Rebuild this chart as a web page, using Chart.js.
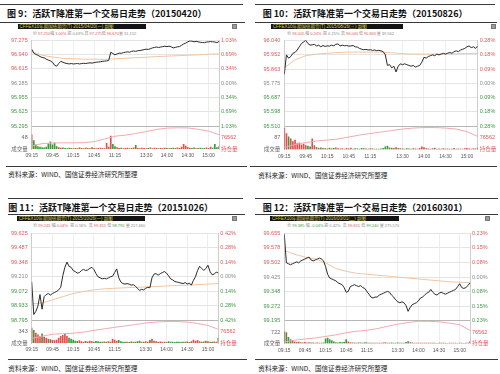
<!DOCTYPE html>
<html><head><meta charset="utf-8">
<script src="https://cdn.jsdelivr.net/npm/chart.js@4.4.0/dist/chart.umd.min.js"></script>
<style>
body{margin:0;width:500px;height:374px;background:#fff;position:relative;overflow:hidden;font-family:'Liberation Sans','Noto Sans CJK SC',sans-serif}
.rule{position:absolute;height:1px;background:#3a3a3a}
.title{position:absolute;font-family:'Noto Sans CJK SC',sans-serif;font-weight:bold;font-size:9px;line-height:10px;white-space:nowrap;color:#111}
.hdr{position:absolute;height:5px;background:#141414;color:#d2cb66;font-size:4.5px;line-height:5px;white-space:nowrap;overflow:hidden;padding-left:2px;box-sizing:border-box}
.icon{position:absolute;width:5px;height:5px;background:#9a9a9a;box-sizing:border-box;border:1px solid #777}
.info{position:absolute;font-size:4px;line-height:5px;white-space:nowrap;color:#888}
.src{position:absolute;font-family:'Noto Sans CJK SC',sans-serif;font-size:6.6px;line-height:7px;white-space:nowrap;color:#222}
canvas{position:absolute}
</style></head><body>
<script>
// ---------- shared axis labels ----------
const X_TICK_MIN = [0,30,60,90,120,165,195,225,255];
const X_TICK_LABELS = ['09:15','09:45','10:15','10:45','11:15','13:30','14:00','14:30','15:00'];
const STEP_PRICE = 3;   // minutes between price / volume points
const STEP_SLOW = 15;   // minutes between average-price / open-interest points
const OI_LABELS = ['持仓量','76562'];
const OI_MIN = 69000, OI_MID = 76562, OI_MAX = 84124;
const SOURCE = '资料来源：WIND、国信证券经济研究所整理';

// ---------- 图 9 (20150420) ----------
const f9Title = '图 9：活跃T降准第一个交易日走势（20150420）';
const f9Header = 'CFFEX10年期国债期货(T) 2015/04/20(一) 副图';
const f9Info = [['价','97.250'],['幅','1.00%'],['振','0.63%'],['高','97.275'],['低','96.670'],['量','31,152']];
const f9PriceTicks = [97.275,96.940,96.615,96.285,95.955,95.625,95.295];
const f9PctTicks = ['1.03%','0.69%','0.34%','0.00%','0.34%','0.69%','1.03%'];
const f9Prev = 96.285;
const f9VolMid = 48;
const f9Price = [97.07,96.98,96.95,96.93,96.90,96.88,96.87,96.84,96.82,96.80,
 96.77,96.70,96.68,96.74,96.79,96.77,96.75,96.74,96.73,96.74,
 96.73,96.735,96.74,96.73,96.74,96.745,96.74,96.75,96.755,96.75,
 96.76,96.77,96.775,96.78,96.79,96.795,96.80,96.81,97.00,96.97,
 96.94,96.96,96.98,96.975,96.99,97.00,97.01,97.00,97.02,97.03,
 97.02,97.035,97.04,97.05,97.06,97.07,97.065,97.08,97.10,97.11,
 97.12,97.11,97.12,97.13,97.14,97.13,97.14,97.125,97.10,97.11,
 97.125,97.13,97.16,97.19,97.21,97.24,97.26,97.255,97.24,97.25,
 97.24,97.23,97.225,97.22,97.235,97.24,97.245,97.24,97.235,97.22,
 97.25];
const f9Avg = [97.02,96.93,96.89,96.86,96.85,96.84,96.84,96.835,96.85,96.86,96.875,96.885,96.90,96.91,96.92,96.93,96.94,96.955,96.96];
const f9OI = [70900,72600,73000,73100,73100,73200,73900,75600,77500,78200,79300,80600,82000,82900,83100,83000,82100,80900,78500];
const f9Vol = [60,35,18,10,8,6,5,8,22,30,
 18,25,10,6,4,5,3,2,4,3,
 2,3,2,5,3,2,4,3,2,6,
 3,2,3,4,3,2,24,8,55,20,
 10,6,3,4,2,3,4,2,3,5,
 16,3,2,4,3,2,3,5,2,4,
 3,2,3,2,4,3,2,3,4,3,
 5,3,8,20,12,6,4,3,5,2,
 3,4,2,3,5,3,8,4,20,6,
 10];

// ---------- 图 10 (20150826) ----------
const f10Title = '图 10：活跃T降准第一个交易日走势（20150826）';
const f10Header = 'CFFEX10年期国债期货(T) 2015/08/26(三) 副图';
const f10Info = [['价','96.005'],['幅','0.24%'],['振','0.25%'],['高','96.040'],['低','95.805'],['量','39,562']];
const f10PriceTicks = [96.040,95.952,95.863,95.775,95.687,95.598,95.510];
const f10PctTicks = ['0.28%','0.18%','0.09%','0.00%','0.09%','0.18%','0.28%'];
const f10Prev = 95.775;
const f10VolMid = 87;
const f10Price = [95.83,95.95,95.93,95.94,95.96,95.965,95.98,96.00,96.02,96.03,
 96.04,96.02,96.01,96.012,96.015,96.005,96.01,96.00,96.008,96.002,
 96.006,96.004,96.01,96.006,96.015,96.018,96.005,96.01,96.006,96.008,
 96.004,96.005,96.008,96.00,95.998,95.99,95.985,95.982,95.984,95.98,
 95.982,95.978,95.98,95.976,95.978,95.975,95.97,95.95,95.885,95.89,
 95.87,95.88,95.845,95.88,95.895,95.89,95.895,95.89,95.885,95.88,
 95.885,95.875,95.88,95.885,95.905,95.935,95.93,95.94,95.945,95.95,
 95.945,95.955,95.95,95.955,95.96,95.955,95.96,95.965,95.96,95.97,
 95.975,95.97,95.98,95.985,95.99,96.00,96.005,95.995,96.00,95.99,
 96.005];
const f10Avg = [95.87,95.92,95.945,95.955,95.96,95.965,95.967,95.967,95.967,95.967,95.963,95.958,95.955,95.955,95.955,95.956,95.957,95.958,95.96];
const f10OI = [70300,72245,73540,74520,75165,75815,77110,78410,79380,80360,81330,82300,82950,83280,83280,82950,82300,80680,77440];
const f10Vol = [160,120,95,80,60,70,45,50,35,40,
 30,25,20,80,30,15,10,12,8,6,
 5,10,6,8,12,7,5,6,4,8,
 5,10,4,6,5,4,8,6,5,4,
 6,5,4,3,4,5,8,20,25,12,
 10,8,15,9,6,5,4,6,5,4,
 6,5,4,8,20,15,6,5,4,6,
 10,4,5,3,6,4,5,3,4,8,
 4,5,3,4,6,8,5,4,6,5,
 10];

// ---------- 图 11 (20151026) ----------
const f11Title = '图 11：活跃T降准第一个交易日走势（20151026）';
const f11Header = 'CFFEX10年期国债期货(T) 2015/10/26(一) 副图';
const f11Info = [['价','99.245'],['幅','0.04%'],['振','0.56%'],['高','99.355'],['低','98.795'],['量','217,460']];
const f11PriceTicks = [99.625,99.487,99.348,99.210,99.072,98.933,98.795];
const f11PctTicks = ['0.42%','0.28%','0.14%','0.00%','0.14%','0.28%','0.42%'];
const f11Prev = 99.210;
const f11VolMid = 343;
const f11Price = [99.16,98.85,98.88,98.93,99.04,98.90,99.02,99.04,99.05,99.035,
 99.05,99.06,99.07,99.085,99.11,99.22,99.30,99.35,99.31,99.30,
 99.27,99.26,99.245,99.25,99.27,99.28,99.27,99.275,99.29,99.30,
 99.28,99.24,99.21,99.20,99.19,99.195,99.19,99.20,99.21,99.215,
 99.25,99.285,99.20,99.16,99.145,99.14,99.145,99.14,99.13,99.135,
 99.12,99.10,99.08,99.09,99.085,99.10,99.11,99.105,99.20,99.235,
 99.24,99.225,99.24,99.25,99.26,99.245,99.22,99.19,99.18,99.165,
 99.16,99.155,99.15,99.145,99.155,99.14,99.15,99.13,99.175,99.21,
 99.27,99.31,99.29,99.27,99.29,99.32,99.26,99.23,99.235,99.255,
 99.245];
const f11Avg = [98.95,98.96,98.99,99.02,99.05,99.07,99.085,99.095,99.10,99.105,99.11,99.112,99.118,99.122,99.127,99.13,99.135,99.14,99.145];
const f11OI = [72000,73500,74800,75200,75500,76200,77400,78400,79400,80300,81300,82300,82950,83250,83250,82900,82000,80700,78100];
const f11Vol = [450,380,300,250,200,280,180,150,120,100,
 80,70,90,150,200,230,260,200,150,120,
 90,60,50,70,40,30,50,35,60,40,
 30,50,40,30,25,35,30,40,25,120,
 90,60,80,40,30,25,30,20,35,25,
 30,45,60,30,25,40,30,80,120,60,
 40,30,35,25,30,20,40,30,25,20,
 30,25,20,30,25,35,20,40,90,60,
 80,40,30,35,60,45,30,25,35,30,
 140];

// ---------- 图 12 (20160301) ----------
const f12Title = '图 12：活跃T降准第一个交易日走势（20160301）';
const f12Header = 'CFFEX10年期国债期货(T) 2016/03/01(二) 副图';
const f12Info = [['价','99.385'],['幅','-0.04%'],['振','0.42%'],['高','99.655'],['低','99.240'],['量','275,570']];
const f12PriceTicks = [99.655,99.578,99.502,99.425,99.348,99.272,99.195];
const f12PctTicks = ['0.23%','0.15%','0.08%','0.00%','0.08%','0.15%','0.23%'];
const f12Prev = 99.425;
const f12VolMid = 722;
const f12Price = [99.65,99.50,99.495,99.49,99.495,99.50,99.505,99.50,99.51,99.515,
 99.52,99.525,99.53,99.515,99.51,99.515,99.52,99.525,99.52,99.51,
 99.48,99.44,99.42,99.415,99.41,99.405,99.395,99.39,99.385,99.37,
 99.345,99.35,99.375,99.38,99.385,99.38,99.375,99.38,99.37,99.365,
 99.35,99.335,99.32,99.315,99.32,99.32,99.33,99.335,99.34,99.345,
 99.35,99.345,99.33,99.32,99.305,99.295,99.29,99.295,99.29,99.275,
 99.245,99.265,99.28,99.285,99.29,99.30,99.315,99.32,99.33,99.34,
 99.345,99.36,99.345,99.335,99.33,99.34,99.345,99.34,99.335,99.34,
 99.345,99.35,99.355,99.36,99.375,99.39,99.37,99.365,99.37,99.38,
 99.395];
const f12Avg = [99.565,99.545,99.53,99.52,99.50,99.47,99.455,99.445,99.44,99.435,99.43,99.425,99.42,99.415,99.41,99.405,99.40,99.398,99.395];
const f12OI = [70100,71200,72000,72700,73700,74800,76200,77200,77800,78900,80500,81900,83000,83800,83800,83500,82600,81500,77800];
const f12Vol = [760,700,400,250,150,100,80,90,60,50,
 70,40,60,50,40,30,35,25,30,40,
 300,350,250,180,100,60,50,80,60,90,
 250,100,60,40,50,30,40,35,30,60,
 40,30,25,30,20,25,30,20,40,60,
 30,25,35,20,30,50,25,20,30,80,
 120,60,40,30,25,30,20,25,30,20,
 25,30,20,25,15,20,30,25,20,15,
 20,25,30,20,15,25,20,15,20,25,
 100];

// ---------- panel assembly ----------
const PANELS = [
 {title:f9Title, header:f9Header, info:f9Info, priceTicks:f9PriceTicks, pctTicks:f9PctTicks, prev:f9Prev, volMid:f9VolMid, price:f9Price, avg:f9Avg, oi:f9OI, vol:f9Vol},
 {title:f10Title, header:f10Header, info:f10Info, priceTicks:f10PriceTicks, pctTicks:f10PctTicks, prev:f10Prev, volMid:f10VolMid, price:f10Price, avg:f10Avg, oi:f10OI, vol:f10Vol},
 {title:f11Title, header:f11Header, info:f11Info, priceTicks:f11PriceTicks, pctTicks:f11PctTicks, prev:f11Prev, volMid:f11VolMid, price:f11Price, avg:f11Avg, oi:f11OI, vol:f11Vol},
 {title:f12Title, header:f12Header, info:f12Info, priceTicks:f12PriceTicks, pctTicks:f12PctTicks, prev:f12Prev, volMid:f12VolMid, price:f12Price, avg:f12Avg, oi:f12OI, vol:f12Vol}
];
// page geometry of each panel
const LAYOUTS = [
 {x0:0,   plotL:31.7,  plotR:219,   pTop:37.7,  pBot:125.7, vBot:149,
  rules:[[0,243,4],[0,245,22],[6,247,165.5]], titleX:7, titleY:14, hdrX:17.5, hdrY:23.5, hdrW:128.5, iconX:231.5,
  infoX:33, infoY:33.5, infoStep:17.2, srcX:8.3, srcY:174.6},
 {x0:250, plotL:284.3, plotR:477.7, pTop:37.7,  pBot:125.7, vBot:149.5,
  rules:[[255,495,4],[255,497,22],[250,497,165.5]], titleX:262.7, titleY:14, hdrX:270.7, hdrY:23.5, hdrW:132.6, iconX:490.7,
  infoX:287.3, infoY:33.5, infoStep:17.9, srcX:258.3, srcY:175},
 {x0:0,   plotL:31.7,  plotR:218.3, pTop:230.7, pBot:319.7, vBot:343,
  rules:[[8,243,198],[8,245,214],[8,247,359]], titleX:8.3, titleY:207.7, hdrX:16.7, hdrY:216, hdrW:128.5, iconX:231.7,
  infoX:33.3, infoY:225.8, infoStep:18.5, srcX:8.3, srcY:368.3},
 {x0:250, plotL:284.3, plotR:470,   pTop:230.7, pBot:320.3, vBot:343.5,
  rules:[[255,498,198],[255,498,214],[255,498,359]], titleX:262.7, titleY:207.7, hdrX:270, hdrY:216, hdrW:128.5, iconX:485,
  infoX:287.3, infoY:225.8, infoStep:18.5, srcX:258.3, srcY:368.3}
];

const FONT = "'Liberation Sans','Noto Sans CJK SC',sans-serif";
const RED = '#e2585a', GREEN = '#3f9a45', GRAY = '#8a8a8a';
function upDown(v, prev){ return v > prev + 1e-9 ? RED : (v < prev - 1e-9 ? GREEN : GRAY); }
function addDiv(cls, css, text){
  const d = document.createElement('div'); d.className = cls; Object.assign(d.style, css);
  if (text != null) d.textContent = text; document.body.appendChild(d); return d;
}
function infoColor(P, k, s){
  if (k === 0 || k === 3 || k === 4) return upDown(parseFloat(s), P.prev);
  if (k === 1) return s.startsWith('-') ? GREEN : RED;
  return GRAY;
}

function buildPanel(P, L){
  L.rules.forEach(r => addDiv('rule', {left:r[0]+'px', width:(r[1]-r[0])+'px', top:r[2]+'px'}));
  addDiv('title', {left:L.titleX+'px', top:(L.titleY-5)+'px'}, P.title);
  addDiv('hdr', {left:L.hdrX+'px', top:L.hdrY+'px', width:L.hdrW+'px'}, P.header);
  addDiv('icon', {left:L.iconX+'px', top:L.hdrY+'px'});
  P.info.forEach((pair, k) => {
    const d = addDiv('info', {left:(L.infoX + k*L.infoStep)+'px', top:(L.infoY-2.5)+'px'});
    const a = document.createElement('span'); a.textContent = pair[0]; a.style.color = GRAY;
    const b = document.createElement('span'); b.textContent = pair[1]; b.style.color = infoColor(P, k, pair[1]); b.style.marginLeft = '1px';
    d.append(a, b);
  });
  addDiv('src', {left:L.srcX+'px', top:(L.srcY-3.5)+'px'}, SOURCE);

  const cTop = Math.floor(L.pTop) - 4;
  const cBot = Math.ceil(L.vBot + 11);
  const cv = document.createElement('canvas');
  cv.width = 250; cv.height = cBot - cTop;
  cv.style.left = L.x0+'px'; cv.style.top = cTop+'px';
  cv.style.width = '250px'; cv.style.height = (cBot - cTop)+'px';
  document.body.appendChild(cv);
  const padTop = L.pTop - cTop, xH = cBot - L.vBot;
  const lw = L.plotL - L.x0, rw = L.x0 + 250 - L.plotR;
  const pMin = Math.min(...P.priceTicks), pMax = Math.max(...P.priceTicks);
  const nT = P.priceTicks.length;
  const asc = P.priceTicks.slice().sort((a,b)=>a-b);
  const volColors = P.vol.map((v,i) => (i === 0 || P.price[i] >= P.price[i-1]) ? '#e0504f' : '#3c9a3c');
  const tickFont = {family:FONT, size:5.5};
  const wP = L.pBot - L.pTop, wV = L.vBot - L.pBot;

  new Chart(cv, {
    type:'line',
    data:{datasets:[
      {label:'价格', data:P.price.map((y,i)=>({x:i*STEP_PRICE, y})), yAxisID:'yP', borderColor:'#2a2a2a', borderWidth:1, pointRadius:0, order:1},
      {label:'均价', data:P.avg.map((y,i)=>({x:i*STEP_SLOW, y})), yAxisID:'yP', borderColor:'#f2c4a2', borderWidth:1, pointRadius:0, order:2},
      {label:'持仓量', data:P.oi.map((y,i)=>({x:i*STEP_SLOW, y})), yAxisID:'yVR', borderColor:'#f0aab0', borderWidth:1, pointRadius:0, order:3},
      {type:'bar', label:'成交量', data:P.vol.map((y,i)=>({x:i*STEP_PRICE, y})), yAxisID:'yV', backgroundColor:volColors, barThickness:1, order:4}
    ]},
    options:{
      responsive:false, animation:false, devicePixelRatio:1,
      layout:{padding:{top:padTop, left:0, right:0, bottom:0}},
      plugins:{legend:{display:false}, tooltip:{enabled:false}},
      scales:{
        x:{type:'linear', min:0, max:270, offset:false,
           afterBuildTicks:s=>{ s.ticks = X_TICK_MIN.map(v=>({value:v})); },
           afterFit:s=>{ s.height = xH; },
           ticks:{autoSkip:false, maxRotation:0, padding:4, font:{family:FONT, size:5}, color:'#555', callback:(v,i)=>X_TICK_LABELS[i]},
           grid:{color:'#ededed', drawTicks:false, offset:false}, border:{display:false}},
        // left stack is laid out in reverse declaration order, so the volume axis is declared first
        yV:{position:'left', stack:'L', stackWeight:wV, min:0, max:2*P.volMid,
           afterBuildTicks:s=>{ s.ticks = [{value:0},{value:P.volMid}]; },
           afterFit:s=>{ s.width = lw; },
           ticks:{autoSkip:false, font:tickFont, padding:4, color:'#666', callback:(v,i)=> i === 0 ? '成交量' : String(P.volMid)},
           grid:{display:false, drawTicks:false}, border:{color:'#cdcdcd'}},
        yP:{position:'left', stack:'L', stackWeight:wP, min:pMin, max:pMax,
           afterBuildTicks:s=>{ s.ticks = asc.map(v=>({value:v})); },
           afterFit:s=>{ s.width = lw; },
           ticks:{autoSkip:false, font:tickFont, padding:4, color:c=>upDown(c.tick.value, P.prev), callback:v=>v.toFixed(3)},
           grid:{drawTicks:false, color:c=> (c.tick && c.tick.value === pMin) ? '#b5b5b5' : '#e4e4e4'},
           border:{color:'#cdcdcd'}},
        yPR:{position:'right', stack:'R', stackWeight:wP, min:pMin, max:pMax,
           afterBuildTicks:s=>{ s.ticks = asc.map(v=>({value:v})); },
           afterFit:s=>{ s.width = rw; },
           ticks:{autoSkip:false, font:tickFont, padding:2, color:c=>upDown(c.tick.value, P.prev), callback:(v,i)=>P.pctTicks[nT-1-i]},
           grid:{display:false, drawTicks:false}, border:{color:'#cdcdcd'}},
        yVR:{position:'right', stack:'R', stackWeight:wV, min:OI_MIN, max:OI_MAX,
           afterBuildTicks:s=>{ s.ticks = [{value:OI_MIN},{value:OI_MID}]; },
           afterFit:s=>{ s.width = rw; },
           ticks:{autoSkip:false, font:tickFont, padding:2, color:RED, callback:(v,i)=>OI_LABELS[i]},
           grid:{display:false, drawTicks:false}, border:{color:'#cdcdcd'}}
      }
    }
  });
}
PANELS.forEach((P,i) => buildPanel(P, LAYOUTS[i]));
</script>
</body></html>
